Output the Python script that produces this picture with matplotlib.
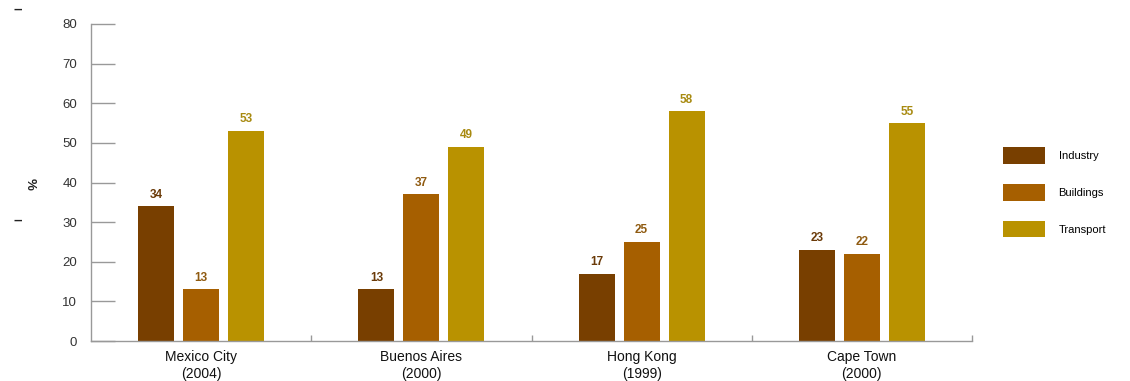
import matplotlib
matplotlib.use("Agg")
import matplotlib.pyplot as plt
from matplotlib.patches import Patch
import numpy as np

cities = ["Mexico City\n(2004)", "Buenos Aires\n(2000)", "Hong Kong\n(1999)", "Cape Town\n(2000)"]
series_names = ["Industry", "Buildings", "Transport"]
industry = [34, 13, 17, 23]
buildings = [13, 37, 25, 22]
transport = [53, 49, 58, 55]
yticks = [0, 10, 20, 30, 40, 50, 60, 70, 80]

colors = ["#783F00", "#A65F00", "#B99200"]
label_colors = ["#6A3A08", "#8F5A10", "#A88A10"]

plt.rcParams['font.family'] = ['Liberation Sans', 'DejaVu Sans']

fig = plt.figure(figsize=(11.3, 3.81), dpi=100)
ax = fig.add_axes([91/1130, 40/381, (972-91)/1130, (341-24)/381])

x = np.arange(len(cities))
offset = 0.204
width = 0.163
for i, vals in enumerate([industry, buildings, transport]):
    bars = ax.bar(x + (i - 1) * offset, vals, width, color=colors[i], zorder=2)
    for b, v in zip(bars, vals):
        ax.annotate(str(v), (b.get_x() + b.get_width() / 2, v), xytext=(0, 4),
                    textcoords="offset points", ha="center", va="bottom",
                    fontsize=8.5, color=label_colors[i], fontweight="bold")

ax.set_xlim(-0.5, 3.5)
ax.set_ylim(0, 80)
ax.set_yticks(yticks)
ax.set_yticklabels([str(t) for t in yticks], fontsize=9.5, color="#333333")
ax.tick_params(axis="y", direction="in", length=17, width=1, color="#999999", pad=10)

ax.set_xticks([0.5, 1.5, 2.5, 3.5])
ax.set_xticklabels([])
ax.tick_params(axis="x", direction="in", length=4, width=1, color="#999999")
for xi, name in zip(x, cities):
    ax.text(xi, -2.2, name, ha="center", va="top", fontsize=10, color="#111111",
            linespacing=1.3)

for s in ["top", "right"]:
    ax.spines[s].set_visible(False)
for s in ["left", "bottom"]:
    ax.spines[s].set_color("#999999")
    ax.spines[s].set_linewidth(1)

fig.text(30/1130, 1 - 184/381, "%", rotation=-90, ha="center", va="center",
         fontsize=9.5, color="#222222", fontweight="bold")

fig.text(18/1130, 1 - 10/381, "–", ha="center", va="center", fontsize=11,
         color="#222222", fontweight="bold")
fig.text(18/1130, 1 - 221/381, "–", ha="center", va="center", fontsize=11,
         color="#222222", fontweight="bold")

handles = [Patch(facecolor=c) for c in colors]
fig.legend(handles, series_names, loc="upper left",
           bbox_to_anchor=(1003/1130, 1 - 147/381), frameon=False,
           borderpad=0, borderaxespad=0, handlelength=3.8, handleheight=1.95,
           labelspacing=1.8, handletextpad=1.2, fontsize=8)

fig.savefig("out.png", dpi=100)
